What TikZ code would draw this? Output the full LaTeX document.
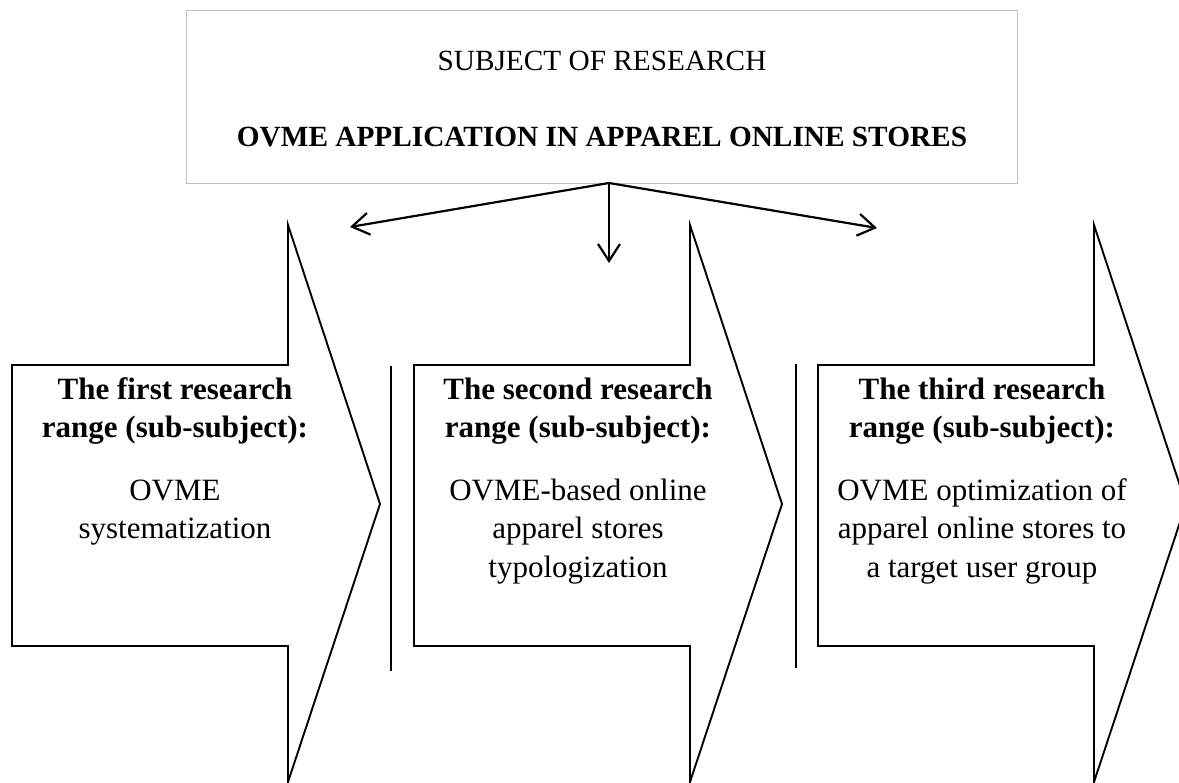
\documentclass[tikz,border=0pt]{standalone}
\usepackage{fontspec}
\setmainfont{Liberation Serif}
\usetikzlibrary{arrows.meta}

\tikzset{
  frame/.style={draw=black!25, line width=1.4pt},
  outline/.style={draw=black, line width=1.9pt, line join=miter},
  link/.style={draw=black, line width=2.2pt,
    -{Straight Barb[length=17pt,width=22pt,line width=2.2pt]}},
  divider/.style={draw=black, line width=1.9pt},
  toptext/.style={anchor=base, inner sep=0pt, font=\fontsize{29.3}{35}\selectfont},
  topbold/.style={anchor=base, inner sep=0pt, font=\fontsize{29.3}{35}\selectfont\bfseries},
  headline/.style={anchor=base, inner sep=0pt, font=\fontsize{31}{38}\selectfont\bfseries},
  bodyline/.style={anchor=base, inner sep=0pt, font=\fontsize{31}{38}\selectfont},
  % block arrow: rectangle with a tall triangular head pointing right
  rangearrow/.pic={
    \draw[outline] (0,140) -- (276,140) -- (276,0) -- (368,279)
      -- (276,557) -- (276,421) -- (0,421) -- cycle;
  }
}

\begin{document}
\begin{tikzpicture}[x=1pt,y=-1pt]
\useasboundingbox (0,0) rectangle (1179,783);
\clip (0,0) rectangle (1179,783);

% subject box
\node[frame, anchor=north west, minimum width=831pt, minimum height=173pt,
      inner sep=0pt] (subject) at (186,10) {};
\node[toptext] (subjtitle) at (602,71) {SUBJECT OF RESEARCH};
\node[topbold] (subjname) at (602,147) {OVME APPLICATION IN APPAREL ONLINE STORES};

% fork of three arrows under the subject box
\coordinate (fork) at (609,183);
\coordinate (aimL) at (350,227);
\coordinate (aimC) at (609,263);
\coordinate (aimR) at (877,228);
\draw[link] (fork) -- (aimL);
\draw[link] (fork) -- (aimC);
\draw[link] (fork) -- (aimR);

% three research ranges
\pic at (12,225) {rangearrow};
\pic at (414,225) {rangearrow};
\pic at (818,225) {rangearrow};

% separators between the ranges
\draw[divider] (391,366) -- (391,671);
\draw[divider] (796,364) -- (796,668);

% first range
\node[headline] (r1a) at (175,400) {The first research};
\node[headline] (r1b) at (175,438) {range (sub-subject):};
\node[bodyline] (r1c) at (175,501) {OVME};
\node[bodyline] (r1d) at (175,539) {systematization};

% second range
\node[headline] (r2a) at (578,400) {The second research};
\node[headline] (r2b) at (578,438) {range (sub-subject):};
\node[bodyline] (r2c) at (578,501) {OVME-based online};
\node[bodyline] (r2d) at (578,539) {apparel stores};
\node[bodyline] (r2e) at (578,577) {typologization};

% third range
\node[headline] (r3a) at (982,400) {The third research};
\node[headline] (r3b) at (982,438) {range (sub-subject):};
\node[bodyline] (r3c) at (982,501) {OVME optimization of};
\node[bodyline] (r3d) at (982,539) {apparel online stores to};
\node[bodyline] (r3e) at (982,577) {a target user group};
\end{tikzpicture}
\end{document}
